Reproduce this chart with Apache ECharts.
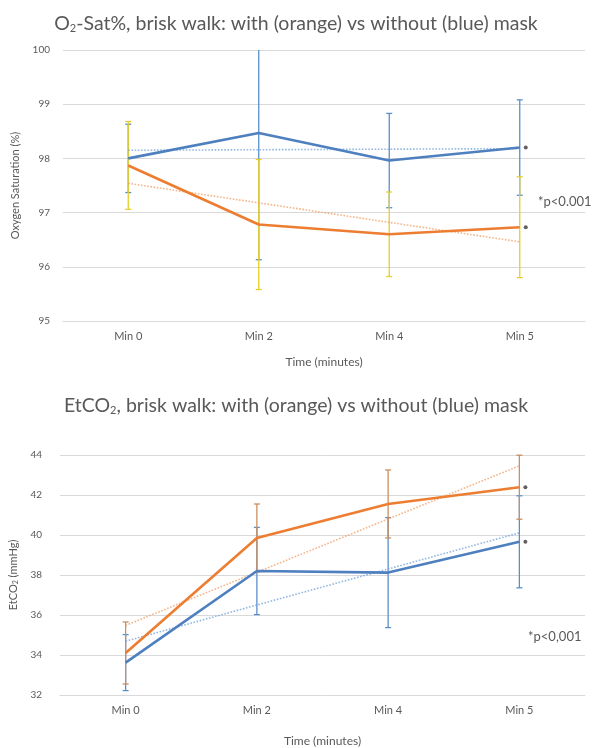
<!DOCTYPE html>
<html>
<head>
<meta charset="utf-8">
<script src="https://cdn.jsdelivr.net/npm/echarts@6/dist/echarts.min.js"></script>
<style>
  html, body { margin: 0; padding: 0; background: #fff; }
  #chart { width: 592px; height: 748px; }
</style>
</head>
<body>
<div id="chart"></div>
<script>
// Time points shared by both panels
const categories = ['Min 0', 'Min 2', 'Min 4', 'Min 5'];

// Oxygen saturation (%) — mean, SD and linear trend
const o2WithoutMask = [98.0, 98.47, 97.96, 98.2];
const o2WithMask = [97.87, 96.78, 96.6, 96.73];
const o2WithoutMaskSD = [0.63, 2.34, 0.87, 0.88];
const o2WithMaskSD = [0.81, 1.2, 0.78, 0.93];
const o2WithoutMaskTrend = [98.15, 98.16, 98.17, 98.18];
const o2WithMaskTrend = [97.54, 97.18, 96.82, 96.46];

// End-tidal CO2 (mmHg) — mean, SD and linear trend
const co2WithoutMask = [33.62, 38.2, 38.12, 39.66];
const co2WithMask = [34.1, 39.85, 41.55, 42.39];
const co2WithoutMaskSD = [1.4, 2.18, 2.75, 2.3];
const co2WithMaskSD = [1.55, 1.7, 1.7, 1.6];
const co2WithoutMaskTrend = [34.69, 36.5, 38.3, 40.11];
const co2WithMaskTrend = [35.48, 38.14, 40.8, 43.46];

const BLUE = '#4e7fbf';
const ORANGE = '#ed7d31';
const TEXT = '#595959';
const FONT = 'Lato, "Open Sans", sans-serif';

function errData(means, sds) {
  return means.map((m, i) => [i, m - sds[i], m + sds[i]]);
}

// Vertical error bar with small caps, kept inside the plot area
function errRenderer(color) {
  return function (params, api) {
    const x = api.value(0);
    const pLo = api.coord([x, api.value(1)]);
    const pHi = api.coord([x, api.value(2)]);
    const cs = params.coordSys;
    const top = Math.max(pHi[1], cs.y);
    const bot = Math.min(pLo[1], cs.y + cs.height);
    const half = 3;
    const style = { stroke: color, lineWidth: 1.3 };
    const children = [{ type: 'line', shape: { x1: pLo[0], y1: top, x2: pLo[0], y2: bot }, style }];
    if (pHi[1] >= cs.y) children.push({ type: 'line', shape: { x1: pHi[0] - half, y1: pHi[1], x2: pHi[0] + half, y2: pHi[1] }, style });
    if (pLo[1] <= cs.y + cs.height) children.push({ type: 'line', shape: { x1: pLo[0] - half, y1: pLo[1], x2: pLo[0] + half, y2: pLo[1] }, style });
    return { type: 'group', children };
  };
}

function errSeries(idx, means, sds, color) {
  return {
    type: 'custom', xAxisIndex: idx, yAxisIndex: idx, silent: true, z: 2,
    renderItem: errRenderer(color),
    encode: { x: 0, y: [1, 2] },
    data: errData(means, sds)
  };
}

function lineSeries(idx, data, color) {
  return {
    type: 'line', xAxisIndex: idx, yAxisIndex: idx, data, silent: true, z: 4,
    symbol: 'none', lineStyle: { color, width: 2.6 }
  };
}

function trendSeries(idx, data, color) {
  return {
    type: 'line', xAxisIndex: idx, yAxisIndex: idx, data, silent: true, z: 3,
    symbol: 'none', lineStyle: { color, width: 1.6, type: 'dotted', opacity: 0.75 }
  };
}

// Significance markers at the last time point
function starSeries(idx, means) {
  return {
    type: 'scatter', xAxisIndex: idx, yAxisIndex: idx, silent: true, z: 5,
    symbol: 'circle', symbolSize: 4, symbolOffset: [6, 0],
    itemStyle: { color: '#3a3a3a' },
    data: [[means.length - 1, means[means.length - 1]]]
  };
}

function xAxis(idx) {
  return {
    type: 'category', gridIndex: idx, data: categories, boundaryGap: true,
    axisLine: { show: true, lineStyle: { color: '#d9d9d9', width: 1 } },
    axisTick: { show: false },
    axisLabel: { color: TEXT, fontSize: 11, fontFamily: FONT, margin: 10 },
    name: 'Time (minutes)', nameLocation: 'middle', nameGap: idx === 0 ? 35 : 40,
    nameTextStyle: { color: TEXT, fontSize: 12, fontFamily: FONT }
  };
}

function yAxis(idx, min, max, interval, name, nameGap) {
  return {
    type: 'value', gridIndex: idx, min, max, interval,
    axisLine: { show: false }, axisTick: { show: false },
    splitLine: { lineStyle: { color: '#d9d9d9', width: 1 } },
    axisLabel: { color: TEXT, fontSize: 10, fontFamily: FONT, margin: idx === 0 ? 13 : 18 },
    name, nameLocation: 'middle', nameGap, nameRotate: 90,
    nameTextStyle: { color: TEXT, fontSize: 11, fontFamily: FONT, rich: { sub: { fontSize: 7, verticalAlign: 'bottom', padding: [5, 0, 0, 0], color: TEXT, fontFamily: FONT } } }
  };
}

const titleRich = { sub: { fontSize: 11, color: TEXT, fontFamily: FONT, padding: [10, 0, 0, 0] } };

const option = {
  animation: false,
  backgroundColor: '#fff',
  title: [
    { text: 'O{sub|2}-Sat%, brisk walk: with (orange) vs without (blue) mask', left: 'center', top: 8,
      textStyle: { color: TEXT, fontSize: 19.5, fontWeight: 'normal', fontFamily: FONT, rich: titleRich } },
    { text: 'EtCO{sub|2}, brisk walk: with (orange) vs without (blue) mask', left: 'center', top: 390,
      textStyle: { color: TEXT, fontSize: 19.5, fontWeight: 'normal', fontFamily: FONT, rich: titleRich } },
    { text: '*p<0.001', left: 533, top: 190, textStyle: { color: TEXT, fontSize: 13, fontWeight: 'normal', fontFamily: FONT } },
    { text: '*p<0,001', left: 523, top: 625, textStyle: { color: TEXT, fontSize: 13, fontWeight: 'normal', fontFamily: FONT } }
  ],
  grid: [
    { left: 63, right: 7, top: 50, height: 271 },
    { left: 55, right: 7, top: 455, height: 247 }
  ],
  xAxis: [xAxis(0), xAxis(1)],
  yAxis: [
    yAxis(0, 95, 100, 1, 'Oxygen Saturation (%)', 42),
    yAxis(1, 32, 44, 2, 'EtCO{sub|2} (mmHg)', 37)
  ],
  series: [
    errSeries(0, o2WithoutMask, o2WithoutMaskSD, '#5b8fca'),
    errSeries(0, o2WithMask, o2WithMaskSD, '#e6cf2c'),
    trendSeries(0, o2WithoutMaskTrend, '#6fa0d8'),
    trendSeries(0, o2WithMaskTrend, '#f29b62'),
    lineSeries(0, o2WithoutMask, BLUE),
    lineSeries(0, o2WithMask, ORANGE),
    starSeries(0, o2WithoutMask),
    starSeries(0, o2WithMask),

    errSeries(1, co2WithoutMask, co2WithoutMaskSD, '#5b8fca'),
    errSeries(1, co2WithMask, co2WithMaskSD, '#c98e62'),
    trendSeries(1, co2WithoutMaskTrend, '#6fa0d8'),
    trendSeries(1, co2WithMaskTrend, '#f29b62'),
    lineSeries(1, co2WithoutMask, BLUE),
    lineSeries(1, co2WithMask, ORANGE),
    starSeries(1, co2WithoutMask),
    starSeries(1, co2WithMask)
  ]
};

const chart = echarts.init(document.getElementById('chart'), null, { renderer: 'canvas' });
chart.setOption(option);
</script>
</body>
</html>
